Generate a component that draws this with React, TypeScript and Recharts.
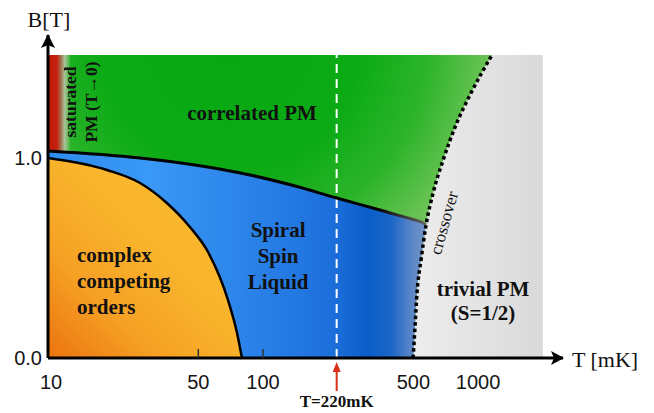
import React from "react";
import {
    ComposedChart,
    Area,
    Line,
    XAxis,
    YAxis,
    ReferenceLine,
    ReferenceDot,
} from "recharts";

// T in mK (log axis), B in tesla
const TOP_B = 1.515;
const X_DOMAIN = [10, 2483];
const Y_DOMAIN = [0, 1.615];

// dotted crossover to the trivial paramagnet
const crossT = [499, 509, 520, 543, 573, 618, 688, 782, 927, 1161];
const crossB = [0, 0.155, 0.325, 0.49, 0.665, 0.825, 0.99, 1.155, 1.325, 1.515];

// upper edge of the spiral spin liquid
const spiralT = [10, 26.8, 48.3, 87, 141, 220, 350, 499, 509, 520, 543, 573];
const spiralB = [1.035, 1.0, 0.965, 0.915, 0.86, 0.8, 0.74, 0.6925, 0.69, 0.687, 0.681, 0.665];

// dome of the ordered phases
const orderT = [10, 18.8, 26.8, 35.7, 45.7, 55.5, 68.7, 75.7, 79.8];
const orderB = [1.0, 0.94, 0.875, 0.775, 0.655, 0.53, 0.29, 0.125, 0];

// saturated PM strip near T -> 0
const satT = [10, 12.7];
const satB = [1.035, 1.03];

// background (trivial PM) extent
const bgT = [10, 2000];

const xTicks = [10, 50, 100, 220, 500, 1000];
const yTicks = [0, 1];
const markedTicks = [50, 100];
const cutT = 220;

const lowAt = (t: number) => {
    const i = crossT.indexOf(t);
    return i >= 0 ? crossB[i] : 0;
};

const bgData = bgT.map((t) => ({ t, r: [0, TOP_B] }));
const greenData = [
    { t: 10, r: [0, TOP_B] },
    ...crossT.map((t, i) => ({ t, r: [crossB[i], TOP_B] })),
];
const satData = satT.map((t, i) => ({ t, r: [satB[i], TOP_B] }));
const blueData = spiralT.map((t, i) => ({ t, r: [lowAt(t), spiralB[i]] }));
const orangeData = orderT.map((t, i) => ({ t, r: [0, orderB[i]] }));
const spiralLine = spiralT.map((t, i) => ({ t, b: spiralB[i] }));
const orderLine = orderT.map((t, i) => ({ t, b: orderB[i] }));
const crossLine = crossT.map((t, i) => ({ t, b: crossB[i] }));

const SERIF = "Liberation Serif, Times New Roman, serif";
const SANS = "Liberation Sans, Arial, sans-serif";

function XTick(props: any) {
    const { x, y, payload } = props;
    const v = payload.value;
    if (v === cutT) {
        return (
            <g>
                <line x1={x} y1={y + 33} x2={x} y2={y + 12} stroke="#d8301a" strokeWidth={2} />
                <path d={`M${x},${y + 4} L${x - 4},${y + 14} L${x + 4},${y + 14} Z`} fill="#d8301a" />
                <text x={x} y={y + 49} textAnchor="middle" fontFamily={SERIF} fontWeight="bold" fontSize={17} fill="#111">
                    T=220mK
                </text>
            </g>
        );
    }
    return (
        <g>
            {markedTicks.includes(v) && (
                <line x1={x} y1={y - 9} x2={x} y2={y} stroke="#333" strokeWidth={1.5} />
            )}
            <text x={v === 10 ? x + 3 : x} y={y + 31} textAnchor="middle" fontFamily={SANS} fontSize={20} fill="#151515">
                {v}
            </text>
        </g>
    );
}

const boldText = (lines: string[], anchor: string, size = 21, lh = 26) => (p: any) => (
    <text x={p.cx} y={p.cy} textAnchor={anchor} fontFamily={SERIF} fontWeight="bold" fontSize={size} fill="#111">
        {lines.map((s, i) => (
            <tspan key={i} x={p.cx} dy={i === 0 ? 0 : lh}>
                {s}
            </tspan>
        ))}
    </text>
);

const rotText = (s: string, angle: number, size: number, bold: boolean) => (p: any) => (
    <text
        x={p.cx}
        y={p.cy}
        textAnchor="middle"
        dominantBaseline="central"
        transform={`rotate(${angle} ${p.cx} ${p.cy})`}
        fontFamily={SERIF}
        fontWeight={bold ? "bold" : "normal"}
        fontSize={size}
        fill="#111"
    >
        {s}
    </text>
);

export default function App() {
    return (
        <div style={{ position: "absolute", left: 0, top: 0 }}>
            <ComposedChart width={654} height={413} margin={{ top: 35, right: 91, bottom: 25, left: 8 }}>
                <defs>
                    <linearGradient id="greyFill" gradientUnits="userSpaceOnUse" x1={413} y1={0} x2={543} y2={0}>
                        <stop offset="0" stopColor="#ededed" />
                        <stop offset="1" stopColor="#d9d9d9" />
                    </linearGradient>
                    <radialGradient id="greenFill" gradientUnits="userSpaceOnUse" cx={230} cy={40} r={440}>
                        <stop offset="0" stopColor="#06a712" />
                        <stop offset="0.3" stopColor="#0cab16" />
                        <stop offset="0.45" stopColor="#2cb42a" />
                        <stop offset="0.6" stopColor="#70c458" />
                        <stop offset="0.75" stopColor="#a2d68a" />
                    </radialGradient>
                    <linearGradient id="satFill" gradientUnits="userSpaceOnUse" x1={48} y1={0} x2={72} y2={0}>
                        <stop offset="0" stopColor="#c21a0c" />
                        <stop offset="0.36" stopColor="#c4200e" />
                        <stop offset="0.52" stopColor="#a46848" />
                        <stop offset="0.7" stopColor="#a8c49c" />
                        <stop offset="0.85" stopColor="#7ec070" stopOpacity={0.7} />
                        <stop offset="1" stopColor="#3cb83a" stopOpacity={0} />
                    </linearGradient>
                    <linearGradient id="blueFill" gradientUnits="userSpaceOnUse" x1={48} y1={0} x2={430} y2={0}>
                        <stop offset="0" stopColor="#2d8cec" />
                        <stop offset="0.27" stopColor="#3a98f6" />
                        <stop offset="0.53" stopColor="#2a82e8" />
                        <stop offset="0.74" stopColor="#1d70dc" />
                        <stop offset="0.84" stopColor="#0b5ec9" />
                        <stop offset="0.9" stopColor="#1c66c6" />
                        <stop offset="0.95" stopColor="#5a86c6" />
                        <stop offset="1" stopColor="#7a9ac8" />
                    </linearGradient>
                    <linearGradient id="orangeFill" gradientUnits="userSpaceOnUse" x1={48} y1={358} x2={200} y2={200}>
                        <stop offset="0" stopColor="#ec7410" />
                        <stop offset="0.35" stopColor="#f5a024" />
                        <stop offset="0.7" stopColor="#f9b42c" />
                        <stop offset="1" stopColor="#fab92e" />
                    </linearGradient>
                    <linearGradient id="edgeFade" gradientUnits="userSpaceOnUse" x1={48} y1={0} x2={426} y2={0}>
                        <stop offset="0.87" stopColor="#000" />
                        <stop offset="1" stopColor="#666" />
                    </linearGradient>
                </defs>

                <Area data={bgData} dataKey="r" type="linear" stroke="none" fill="url(#greyFill)" fillOpacity={1} isAnimationActive={false} dot={false} activeDot={false} />
                <Area data={greenData} dataKey="r" type="monotone" stroke="none" fill="url(#greenFill)" fillOpacity={1} isAnimationActive={false} dot={false} activeDot={false} />
                <Area data={satData} dataKey="r" type="linear" stroke="none" fill="url(#satFill)" fillOpacity={1} isAnimationActive={false} dot={false} activeDot={false} />
                <Area data={blueData} dataKey="r" type="monotone" stroke="none" fill="url(#blueFill)" fillOpacity={1} isAnimationActive={false} dot={false} activeDot={false} />
                <Area data={orangeData} dataKey="r" type="monotone" stroke="none" fill="url(#orangeFill)" fillOpacity={1} isAnimationActive={false} dot={false} activeDot={false} />

                <ReferenceLine
                    segment={[{ x: cutT, y: 0 }, { x: cutT, y: TOP_B }]}
                    stroke="#fff"
                    strokeWidth={2}
                    strokeDasharray="9 6"
                    ifOverflow="visible"
                />

                <Line data={spiralLine} dataKey="b" type="monotone" stroke="url(#edgeFade)" strokeWidth={3} dot={false} activeDot={false} isAnimationActive={false} />
                <Line data={orderLine} dataKey="b" type="monotone" stroke="#000" strokeWidth={2.5} dot={false} activeDot={false} isAnimationActive={false} />
                <Line data={crossLine} dataKey="b" type="monotone" stroke="#000" strokeWidth={3.5} strokeDasharray="3.5 3" dot={false} activeDot={false} isAnimationActive={false} />

                <XAxis
                    dataKey="t"
                    type="number"
                    scale="log"
                    domain={X_DOMAIN}
                    allowDataOverflow
                    ticks={xTicks}
                    interval={0}
                    height={30}
                    tickSize={0}
                    tickMargin={0}
                    tickLine={false}
                    axisLine={{ stroke: "#000", strokeWidth: 3 }}
                    tick={<XTick />}
                    label={(p: any) => (
                        <text x={p.viewBox.x + p.viewBox.width + 9} y={p.viewBox.y + 9} fontFamily={SERIF} fontSize={22} fill="#111">
                            T [mK]
                        </text>
                    )}
                />
                <YAxis
                    type="number"
                    domain={Y_DOMAIN}
                    allowDataOverflow
                    ticks={yTicks}
                    width={40}
                    tickSize={0}
                    tickMargin={6}
                    tickLine={false}
                    axisLine={{ stroke: "#000", strokeWidth: 3 }}
                    tick={{ fill: "#151515", fontSize: 20, fontFamily: SANS }}
                    tickFormatter={(v: number) => v.toFixed(1)}
                    label={(p: any) => (
                        <text x={p.viewBox.x + p.viewBox.width + 1} y={p.viewBox.y - 8} textAnchor="middle" fontFamily={SERIF} fontSize={22} fill="#111">
                            B[T]
                        </text>
                    )}
                />

                <ReferenceDot
                    x={X_DOMAIN[1]}
                    y={0}
                    ifOverflow="visible"
                    shape={(p: any) => (
                        <path d={`M${p.cx + 1},${p.cy} L${p.cx - 12},${p.cy - 7} L${p.cx - 9},${p.cy} L${p.cx - 12},${p.cy + 7} Z`} fill="#000" />
                    )}
                />
                <ReferenceDot
                    x={10}
                    y={Y_DOMAIN[1]}
                    ifOverflow="visible"
                    shape={(p: any) => (
                        <path d={`M${p.cx},${p.cy - 1} L${p.cx - 7},${p.cy + 13} L${p.cx},${p.cy + 10} L${p.cx + 7},${p.cy + 13} Z`} fill="#000" />
                    )}
                />

                <ReferenceDot x={88.9} y={1.19} ifOverflow="visible" shape={boldText(["correlated PM"], "middle")} />
                <ReferenceDot x={13.65} y={0.48} ifOverflow="visible" shape={boldText(["complex", "competing", "orders"], "start")} />
                <ReferenceDot x={117.5} y={0.605} ifOverflow="visible" shape={boldText(["Spiral", "Spin", "Liquid"], "middle")} />
                <ReferenceDot x={1055} y={0.31} ifOverflow="visible" shape={boldText(["trivial PM", "(S=1/2)"], "middle", 21, 24)} />
                <ReferenceDot x={12.66} y={1.28} ifOverflow="visible" shape={rotText("saturated", -90, 17.5, true)} />
                <ReferenceDot x={15.85} y={1.28} ifOverflow="visible" shape={rotText("PM (T\u21920)", -90, 17.5, true)} />
                <ReferenceDot x={695} y={0.675} ifOverflow="visible" shape={rotText("crossover", -74, 17, false)} />
            </ComposedChart>
        </div>
    );
}
